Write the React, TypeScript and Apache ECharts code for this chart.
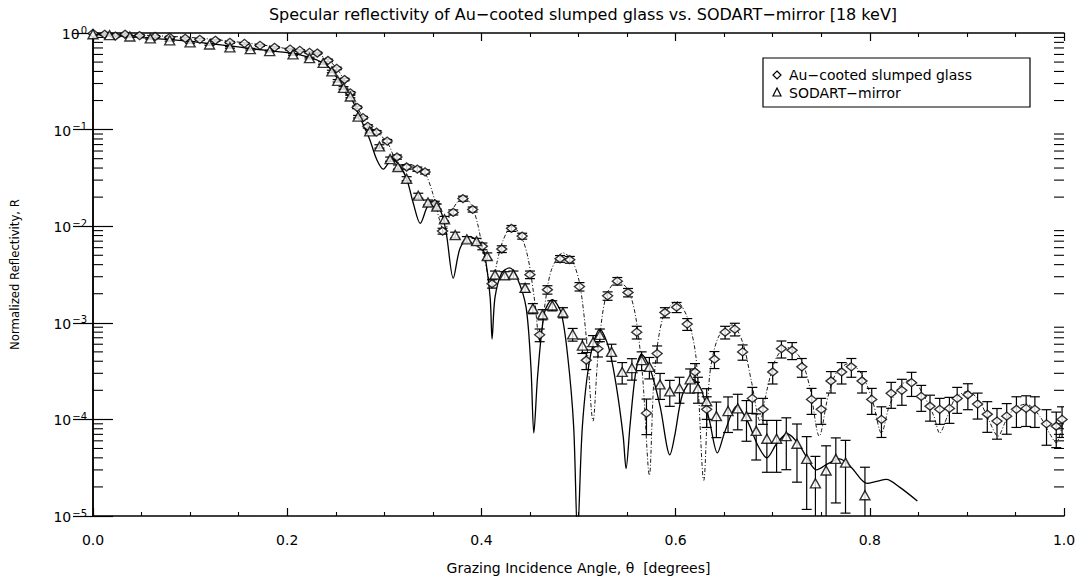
import React, { useEffect, useRef } from "react";
import * as echarts from "echarts";

// [angle (deg), normalized reflectivity R, relative error]
const auPoints: number[][] = [
  [0.000, 0.99, 0.02], [0.012, 0.97, 0.02], [0.023, 0.93, 0.02], [0.033, 0.97, 0.02],
  [0.048, 0.94, 0.02], [0.064, 0.92, 0.02], [0.079, 0.90, 0.02], [0.095, 0.88, 0.02],
  [0.110, 0.86, 0.02], [0.126, 0.84, 0.02], [0.141, 0.80, 0.02], [0.156, 0.78, 0.02],
  [0.172, 0.745, 0.02], [0.187, 0.71, 0.02], [0.203, 0.68, 0.02], [0.213, 0.66, 0.02],
  [0.223, 0.63, 0.02], [0.231, 0.62, 0.02], [0.242, 0.52, 0.03], [0.251, 0.43, 0.03],
  [0.259, 0.33, 0.03], [0.265, 0.24, 0.03], [0.272, 0.17, 0.03], [0.278, 0.133, 0.03],
  [0.283, 0.108, 0.04], [0.292, 0.094, 0.04], [0.303, 0.076, 0.04], [0.313, 0.052, 0.05],
  [0.323, 0.041, 0.05], [0.334, 0.039, 0.05], [0.342, 0.0365, 0.05], [0.352, 0.0171, 0.06],
  [0.360, 0.0089, 0.07], [0.371, 0.0139, 0.06], [0.381, 0.0193, 0.06], [0.391, 0.0149, 0.06],
  [0.401, 0.0062, 0.08], [0.411, 0.00254, 0.1], [0.421, 0.0058, 0.08], [0.431, 0.0095, 0.07],
  [0.442, 0.0079, 0.07], [0.450, 0.00315, 0.09], [0.460, 0.00075, 0.15], [0.468, 0.0022, 0.1],
  [0.481, 0.0046, 0.08], [0.491, 0.0045, 0.08], [0.501, 0.00237, 0.1], [0.508, 0.00041, 0.2],
  [0.520, 0.00054, 0.18], [0.530, 0.0019, 0.1], [0.540, 0.0027, 0.09], [0.551, 0.00206, 0.1],
  [0.560, 0.0008, 0.15], [0.570, 0.000116, 0.4], [0.581, 0.00048, 0.2], [0.589, 0.00128, 0.12],
  [0.601, 0.00145, 0.12], [0.612, 0.00097, 0.14], [0.620, 0.00031, 0.22], [0.632, 0.000127, 0.35],
  [0.640, 0.00042, 0.2], [0.651, 0.0008, 0.15], [0.661, 0.00086, 0.15], [0.669, 0.0005, 0.18],
  [0.679, 0.000165, 0.3], [0.690, 0.000127, 0.3], [0.700, 0.00031, 0.25], [0.709, 0.00054, 0.2],
  [0.720, 0.00052, 0.2], [0.730, 0.00035, 0.22], [0.740, 0.000161, 0.3], [0.750, 0.000127, 0.3],
  [0.760, 0.00025, 0.25], [0.771, 0.00031, 0.25], [0.781, 0.00035, 0.22], [0.792, 0.00025, 0.25],
  [0.802, 0.000161, 0.3], [0.812, 0.0001, 0.35], [0.822, 0.000186, 0.3], [0.833, 0.0002, 0.3],
  [0.843, 0.00024, 0.28], [0.853, 0.000173, 0.3], [0.862, 0.000137, 0.3], [0.872, 0.000127, 0.3],
  [0.882, 0.00013, 0.3], [0.890, 0.000165, 0.3], [0.901, 0.00018, 0.3], [0.911, 0.000144, 0.3],
  [0.921, 0.000113, 0.35], [0.931, 0.000096, 0.35], [0.941, 0.000108, 0.35], [0.951, 0.000127, 0.35],
  [0.961, 0.00013, 0.35], [0.970, 0.000127, 0.35], [0.982, 0.00009, 0.4], [0.992, 0.000085, 0.4],
  [0.998, 0.0001, 0.35],
];

const sodartPoints: number[][] = [
  [0.000, 0.97, 0.02], [0.017, 0.95, 0.02], [0.038, 0.92, 0.02], [0.059, 0.88, 0.02],
  [0.079, 0.84, 0.02], [0.100, 0.80, 0.02], [0.120, 0.76, 0.02], [0.141, 0.71, 0.02],
  [0.162, 0.68, 0.02], [0.182, 0.65, 0.02], [0.206, 0.60, 0.02], [0.223, 0.55, 0.02],
  [0.237, 0.49, 0.03], [0.246, 0.40, 0.03], [0.252, 0.32, 0.03], [0.258, 0.27, 0.03],
  [0.265, 0.22, 0.03], [0.273, 0.136, 0.03], [0.285, 0.096, 0.04], [0.295, 0.067, 0.04],
  [0.306, 0.0495, 0.05], [0.314, 0.041, 0.05], [0.323, 0.031, 0.05], [0.335, 0.0207, 0.06],
  [0.345, 0.0176, 0.06], [0.354, 0.016, 0.06], [0.362, 0.0118, 0.07], [0.373, 0.0081, 0.07],
  [0.385, 0.0073, 0.07], [0.395, 0.0070, 0.07], [0.406, 0.0049, 0.08], [0.414, 0.00315, 0.09],
  [0.424, 0.0031, 0.09], [0.433, 0.00315, 0.09], [0.445, 0.0023, 0.1], [0.453, 0.00141, 0.12],
  [0.463, 0.00122, 0.12], [0.473, 0.00151, 0.12], [0.484, 0.00128, 0.12], [0.494, 0.00076, 0.15],
  [0.504, 0.00058, 0.17], [0.515, 0.00063, 0.17], [0.522, 0.00075, 0.15], [0.534, 0.0005, 0.2],
  [0.545, 0.00031, 0.25], [0.555, 0.00034, 0.25], [0.565, 0.00041, 0.22], [0.573, 0.00035, 0.25],
  [0.584, 0.00023, 0.3], [0.594, 0.000195, 0.3], [0.604, 0.00021, 0.3], [0.615, 0.00026, 0.28],
  [0.623, 0.00021, 0.3], [0.632, 0.000154, 0.35], [0.642, 0.000108, 0.4], [0.654, 0.000122, 0.4],
  [0.664, 0.00013, 0.4], [0.673, 0.000108, 0.45], [0.683, 0.000076, 0.5], [0.694, 0.000063, 0.55],
  [0.704, 0.000063, 0.55], [0.714, 0.000067, 0.55], [0.725, 0.000056, 0.6], [0.735, 0.000039, 0.7],
  [0.744, 0.0000218, 0.9], [0.755, 0.0000296, 0.8], [0.765, 0.000039, 0.65], [0.775, 0.0000357, 0.7],
  [0.795, 0.0000164, 0.95],
];

// model fits [angle, R]
const auFit: number[][] = [
  [0.000, 0.99], [0.100, 0.90], [0.162, 0.78], [0.203, 0.68], [0.231, 0.60], [0.244, 0.51],
  [0.254, 0.39], [0.262, 0.27], [0.271, 0.18], [0.278, 0.133], [0.285, 0.105], [0.292, 0.094],
  [0.303, 0.074], [0.311, 0.0495], [0.316, 0.043], [0.324, 0.044], [0.334, 0.041], [0.342, 0.0356],
  [0.350, 0.0217], [0.357, 0.0115], [0.362, 0.0085], [0.367, 0.0126], [0.374, 0.0171], [0.381, 0.0198],
  [0.389, 0.0171], [0.396, 0.0107], [0.403, 0.0047], [0.411, 0.0023], [0.416, 0.0042], [0.422, 0.0070],
  [0.431, 0.0098], [0.440, 0.0083], [0.448, 0.0047], [0.455, 0.00163], [0.460, 0.00063], [0.465, 0.00145],
  [0.472, 0.0035], [0.484, 0.0053], [0.493, 0.0045], [0.501, 0.0026], [0.508, 0.00071], [0.515, 0.000096],
  [0.520, 0.00044], [0.528, 0.00183], [0.540, 0.0027], [0.551, 0.0022], [0.559, 0.00114], [0.566, 0.00028],
  [0.573, 0.0000263], [0.578, 0.00028], [0.587, 0.00114], [0.601, 0.00166], [0.612, 0.00114], [0.621, 0.00044],
  [0.629, 0.0000234], [0.635, 0.00028], [0.644, 0.00071], [0.658, 0.00095], [0.669, 0.00063], [0.678, 0.00025],
  [0.687, 0.000096], [0.694, 0.0002], [0.703, 0.00042], [0.714, 0.00056], [0.728, 0.00044], [0.738, 0.00022],
  [0.748, 0.000067], [0.757, 0.000173], [0.766, 0.00031], [0.779, 0.00038], [0.792, 0.00029], [0.803, 0.000154],
  [0.812, 0.000072], [0.820, 0.000137], [0.831, 0.00022], [0.843, 0.00026], [0.856, 0.000173], [0.866, 0.000108],
  [0.872, 0.000072], [0.880, 0.000108], [0.888, 0.000165], [0.901, 0.000195], [0.913, 0.000154], [0.923, 0.000096],
  [0.932, 0.000067], [0.940, 0.000096], [0.949, 0.00013], [0.961, 0.000144], [0.975, 0.000108], [0.985, 0.000072],
  [0.992, 0.000057], [0.999, 0.000096],
];

const sodartFit: number[][] = [
  [0.000, 0.97], [0.100, 0.82], [0.162, 0.69], [0.203, 0.62], [0.223, 0.56], [0.237, 0.49],
  [0.246, 0.41], [0.254, 0.31], [0.265, 0.22], [0.275, 0.133], [0.285, 0.079], [0.292, 0.0495],
  [0.299, 0.039], [0.308, 0.0495], [0.316, 0.042], [0.323, 0.031], [0.330, 0.0171], [0.337, 0.0107],
  [0.345, 0.0164], [0.352, 0.0176], [0.359, 0.0136], [0.364, 0.0083], [0.371, 0.0029], [0.378, 0.0059],
  [0.388, 0.0078], [0.398, 0.0067], [0.403, 0.0053], [0.409, 0.00183], [0.411, 0.00068], [0.414, 0.00183],
  [0.421, 0.0033], [0.429, 0.0037], [0.437, 0.0029], [0.446, 0.00145], [0.451, 0.00035], [0.454, 0.000072],
  [0.458, 0.00029], [0.465, 0.00128], [0.473, 0.00174], [0.482, 0.00128], [0.489, 0.00044], [0.495, 0.000085],
  [0.499, 0.0000064], [0.504, 0.000085], [0.512, 0.00044], [0.522, 0.00086], [0.531, 0.00056], [0.539, 0.00022],
  [0.546, 0.000067], [0.549, 0.000031], [0.553, 0.000085], [0.559, 0.00031], [0.565, 0.00047], [0.573, 0.00035],
  [0.584, 0.000137], [0.591, 0.000053], [0.594, 0.000043], [0.599, 0.000067], [0.607, 0.00018], [0.618, 0.00026],
  [0.627, 0.000195], [0.635, 0.000096], [0.643, 0.000045], [0.651, 0.000076], [0.663, 0.000137], [0.674, 0.000096],
  [0.685, 0.000053], [0.694, 0.00004], [0.704, 0.000056], [0.715, 0.000071], [0.728, 0.000053], [0.738, 0.0000357],
  [0.745, 0.00003], [0.757, 0.0000349], [0.769, 0.000039], [0.781, 0.0000318], [0.797, 0.0000218], [0.807, 0.0000228],
  [0.817, 0.0000239], [0.831, 0.0000198], [0.849, 0.0000143],
];

const titleText = "Specular reflectivity of Au\u2212cooted slumped glass vs. SODART\u2212mirror [18 keV]";
const xAxisTitle = "Grazing Incidence Angle, \u03b8  [degrees]";
const yAxisTitle = "Normalized Reflectivity, R";
const legendLabels = ["Au\u2212cooted slumped glass", "SODART\u2212mirror"];

const FONT = "DejaVu Sans, Verdana, sans-serif";

const yLabel = (v: number) => {
  const e = Math.round(Math.log10(v));
  const es = e < 0 ? "\u2212" + String(-e) : String(e);
  return "{b|10}{s|" + es + "}";
};

const errData = (pts: number[][]) =>
  pts.map((p) => [p[0], Math.max(p[1] * (1 - p[2]), 2e-6), p[1] * (1 + p[2])]);

const minorTickValues: number[][] = [];
for (let k = -5; k < 0; k++) {
  for (let m = 2; m <= 9; m++) minorTickValues.push([0, m * Math.pow(10, k)]);
}

const errRender = (params: any, api: any) => {
  const x = api.value(0);
  const lo = api.value(1);
  const hi = api.value(2);
  const top = api.coord([x, hi]);
  const bot = api.coord([x, lo]);
  const w = 5;
  const st = { stroke: "#000", lineWidth: 1.2 };
  return {
    type: "group",
    children: [
      { type: "line", shape: { x1: top[0], y1: top[1], x2: bot[0], y2: bot[1] }, style: st },
      { type: "line", shape: { x1: top[0] - w, y1: top[1], x2: top[0] + w, y2: top[1] }, style: st },
      { type: "line", shape: { x1: bot[0] - w, y1: bot[1], x2: bot[0] + w, y2: bot[1] }, style: st },
    ],
  };
};

const minorRender = (params: any, api: any) => {
  const v = api.value(1);
  const l = api.coord([0, v]);
  const r = api.coord([1, v]);
  const st = { stroke: "#000", lineWidth: 1.1 };
  return {
    type: "group",
    children: [
      { type: "line", shape: { x1: l[0], y1: l[1], x2: l[0] + 10, y2: l[1] }, style: st },
      { type: "line", shape: { x1: r[0] - 10, y1: r[1], x2: r[0], y2: r[1] }, style: st },
    ],
  };
};

export default function App() {
  const ref = useRef<HTMLDivElement>(null);
  useEffect(() => {
    if (!ref.current) return;
    const chart = echarts.init(ref.current, undefined, { renderer: "svg" });
    const axisLineStyle = { color: "#000", width: 1.5 };
    const xCommon = {
      type: "value",
      min: 0,
      max: 1,
      interval: 0.2,
      axisLine: { show: true, lineStyle: axisLineStyle },
      axisTick: { show: true, inside: true, length: 8, lineStyle: { color: "#000", width: 1.2 } },
      minorTick: { show: true, splitNumber: 4, length: 4, lineStyle: { color: "#000", width: 1.1 } },
      splitLine: { show: false },
      minorSplitLine: { show: false },
    };
    const yCommon = {
      type: "log",
      logBase: 10,
      min: 1e-5,
      max: 1,
      splitNumber: 5,
      axisLine: { show: true, lineStyle: axisLineStyle },
      axisTick: { show: true, inside: true, length: 20, lineStyle: { color: "#000", width: 1.2 } },
      splitLine: { show: false },
    };
    chart.setOption({
      animation: false,
      backgroundColor: "#fff",
      title: {
        text: titleText,
        left: 578,
        textAlign: "center",
        top: 1,
        textStyle: { fontFamily: FONT, fontSize: 16, fontWeight: "normal", color: "#000" },
      },
      grid: { left: 93, right: 17, top: 33, bottom: 59, containLabel: false },
      xAxis: [
        {
          ...xCommon,
          position: "bottom",
          axisLabel: {
            formatter: (v: number) => v.toFixed(1),
            margin: 17,
            fontSize: 14,
            fontFamily: FONT,
            color: "#000",
          },
          name: xAxisTitle,
          nameLocation: "middle",
          nameGap: 45,
          nameTextStyle: { fontFamily: FONT, fontSize: 14, color: "#000" },
        },
        { ...xCommon, position: "top", axisLabel: { show: false } },
      ],
      yAxis: [
        {
          ...yCommon,
          position: "left",
          axisLabel: {
            formatter: yLabel,
            margin: 6,
            color: "#000",
            rich: {
              b: { fontSize: 14, fontFamily: FONT, color: "#000", lineHeight: 16, verticalAlign: "bottom" },
              s: { fontSize: 10, fontFamily: FONT, color: "#000", lineHeight: 16, verticalAlign: "top", padding: [0, 0, 0, 1] },
            },
          },
          name: yAxisTitle,
          nameLocation: "middle",
          nameGap: 72,
          nameRotate: 90,
          nameTextStyle: {
            fontFamily: "Liberation Sans Narrow, DejaVu Sans Condensed, sans-serif",
            fontSize: 13,
            color: "#000",
          },
        },
        { ...yCommon, position: "right", axisLabel: { show: false } },
      ],
      graphic: [
        {
          type: "rect",
          shape: { x: 763, y: 58, width: 267, height: 49 },
          style: { fill: "#fff", stroke: "#000", lineWidth: 1.2 },
          z: 100,
        },
        {
          type: "polygon",
          shape: { points: [[777, 71], [781, 75], [777, 79], [773, 75]] },
          style: { fill: "#fff", stroke: "#000", lineWidth: 1.2 },
          z: 101,
        },
        {
          type: "polygon",
          shape: { points: [[777, 88], [781, 96], [773, 96]] },
          style: { fill: "#fff", stroke: "#000", lineWidth: 1.2 },
          z: 101,
        },
        {
          type: "text",
          x: 789,
          y: 75,
          style: { text: legendLabels[0], fontFamily: FONT, fontSize: 14, fill: "#000", verticalAlign: "middle" },
          z: 101,
        },
        {
          type: "text",
          x: 789,
          y: 93,
          style: { text: legendLabels[1], fontFamily: FONT, fontSize: 14, fill: "#000", verticalAlign: "middle" },
          z: 101,
        },
      ],
      series: [
        {
          type: "custom",
          name: "minor ticks",
          renderItem: minorRender,
          data: minorTickValues,
          silent: true,
          z: 1,
        },
        {
          type: "line",
          name: "SODART fit",
          data: sodartFit,
          showSymbol: false,
          smooth: 0.3,
          clip: true,
          lineStyle: { color: "#000", width: 1.3 },
          z: 2,
        },
        {
          type: "line",
          name: "Au fit",
          data: auFit,
          showSymbol: false,
          smooth: 0.3,
          clip: true,
          lineStyle: { color: "#000", width: 0.9, type: [4, 2, 1, 2] },
          z: 2,
        },
        {
          type: "custom",
          name: "Au errors",
          renderItem: errRender,
          data: errData(auPoints),
          clip: true,
          silent: true,
          z: 3,
        },
        {
          type: "custom",
          name: "SODART errors",
          renderItem: errRender,
          data: errData(sodartPoints),
          clip: true,
          silent: true,
          z: 3,
        },
        {
          type: "scatter",
          name: legendLabels[0],
          data: auPoints.map((p) => [p[0], p[1]]),
          symbol: "diamond",
          symbolSize: [10, 8],
          itemStyle: { color: "#fff", borderColor: "#000", borderWidth: 1.4 },
          z: 4,
        },
        {
          type: "scatter",
          name: legendLabels[1],
          data: sodartPoints.map((p) => [p[0], p[1]]),
          symbol: "triangle",
          symbolSize: [10, 9],
          itemStyle: { color: "#fff", borderColor: "#000", borderWidth: 1.4 },
          z: 4,
        },
      ],
    });
    return () => chart.dispose();
  }, []);
  return (
    <div
      ref={ref}
      style={{ position: "absolute", left: 0, top: 0, width: 1081, height: 580, background: "#fff" }}
    />
  );
}
